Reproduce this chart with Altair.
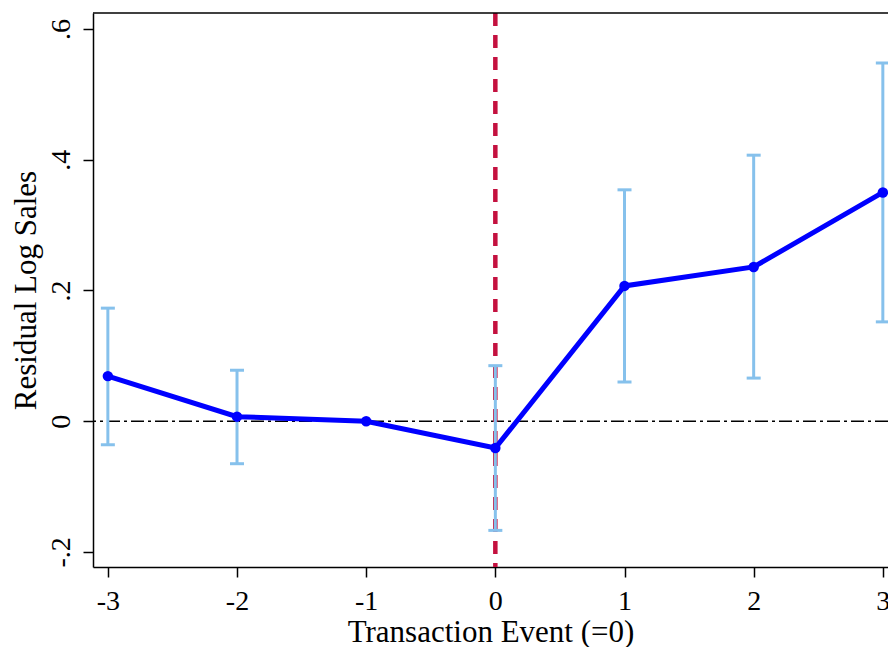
import altair as alt
import pandas as pd

event = [-3, -2, -1, 0, 1, 2, 3]
coef = [0.069, 0.007, 0.0, -0.041, 0.207, 0.236, 0.350]
ci_low = [-0.036, -0.065, None, -0.167, 0.060, 0.066, 0.152]
ci_high = [0.173, 0.078, None, 0.085, 0.354, 0.407, 0.548]

x_ticks = [-3, -2, -1, 0, 1, 2, 3]
y_ticks = [-0.2, 0, 0.2, 0.4, 0.6]

df = pd.DataFrame({"event": event, "coef": coef, "lo": ci_low, "hi": ci_high})
ci_df = df.dropna()

FONT = "Liberation Serif"
W, H = 795, 554
xdom = [-3.115, 3.04]
ydom = [-0.223, 0.6245]

xs = alt.Scale(domain=xdom, nice=False, zero=False)
ys = alt.Scale(domain=ydom, nice=False, zero=False)

x_axis = alt.Axis(values=x_ticks, labelExpr="'' + datum.value", title="Transaction Event (=0)",
                  grid=False, tickSize=10, tickColor="black", tickWidth=1.5,
                  domainColor="black", domainWidth=1.5, labelFont=FONT, labelFontSize=28,
                  labelColor="black", labelPadding=10, titleFont=FONT, titleFontSize=31,
                  titleFontWeight="normal", titleColor="black", titleBaseline="alphabetic",
                  titleY=74)
y_axis = alt.Axis(values=y_ticks,
                  labelExpr="datum.value == 0 ? '0' : replace('' + (round(datum.value*10)/10), '0.', '.')",
                  title="Residual Log Sales", grid=False, tickSize=10, tickColor="black",
                  tickWidth=1.5, domainColor="black", domainWidth=1.5, labelFont=FONT,
                  labelFontSize=28, labelColor="black", labelAngle=-90, labelAlign="center",
                  labelBaseline="alphabetic", labelPadding=14, titleFont=FONT, titleFontSize=31,
                  titleFontWeight="normal", titleColor="black", titleAngle=-90,
                  titleAlign="center", titleBaseline="alphabetic", titleX=-58, titleY=H / 2)

base = alt.Chart(df)

zero_df = pd.DataFrame({"y": [0]})
zero_line = alt.Chart(zero_df).mark_rule(color="black", strokeWidth=1.5,
                                          strokeDash=[13, 4, 3, 4], clip=True).encode(
    y=alt.Y("y:Q", scale=ys, axis=y_axis))

vline_df = pd.DataFrame({"x": [0]})
vline = alt.Chart(vline_df).mark_rule(color="#C4113F", strokeWidth=4.5,
                                       strokeDash=[13, 9], clip=True).encode(
    x=alt.X("x:Q", scale=xs, axis=x_axis))

top_border = alt.Chart(zero_df).mark_rule(color="black", strokeWidth=1.5).encode(
    y=alt.value(0), x=alt.value(0), x2=alt.value(W))

ci_rule = alt.Chart(ci_df).mark_rule(color="#86C1EC", strokeWidth=3, clip=True).encode(
    x=alt.X("event:Q", scale=xs), y=alt.Y("lo:Q", scale=ys), y2="hi:Q")
cap_lo = alt.Chart(ci_df).mark_tick(color="#86C1EC", orient="horizontal", size=14,
                                    thickness=3, opacity=1, clip=True).encode(
    x=alt.X("event:Q", scale=xs), y=alt.Y("lo:Q", scale=ys))
cap_hi = alt.Chart(ci_df).mark_tick(color="#86C1EC", orient="horizontal", size=14,
                                    thickness=3, opacity=1, clip=True).encode(
    x=alt.X("event:Q", scale=xs), y=alt.Y("hi:Q", scale=ys))

line = base.mark_line(color="#0000FF", strokeWidth=5, clip=True).encode(
    x=alt.X("event:Q", scale=xs), y=alt.Y("coef:Q", scale=ys))
points = base.mark_circle(color="#0000FF", size=110, opacity=1, clip=True).encode(
    x=alt.X("event:Q", scale=xs), y=alt.Y("coef:Q", scale=ys))

chart = alt.layer(zero_line, vline, ci_rule, cap_lo, cap_hi, line, points, top_border).properties(
    width=W, height=H,
    autosize=alt.AutoSizeParams(type="none"),
    padding={"left": 85, "top": 5, "right": 0, "bottom": 80},
).configure_view(stroke=None)

chart.save("out.html", embed_options={"renderer": "svg", "actions": False})
